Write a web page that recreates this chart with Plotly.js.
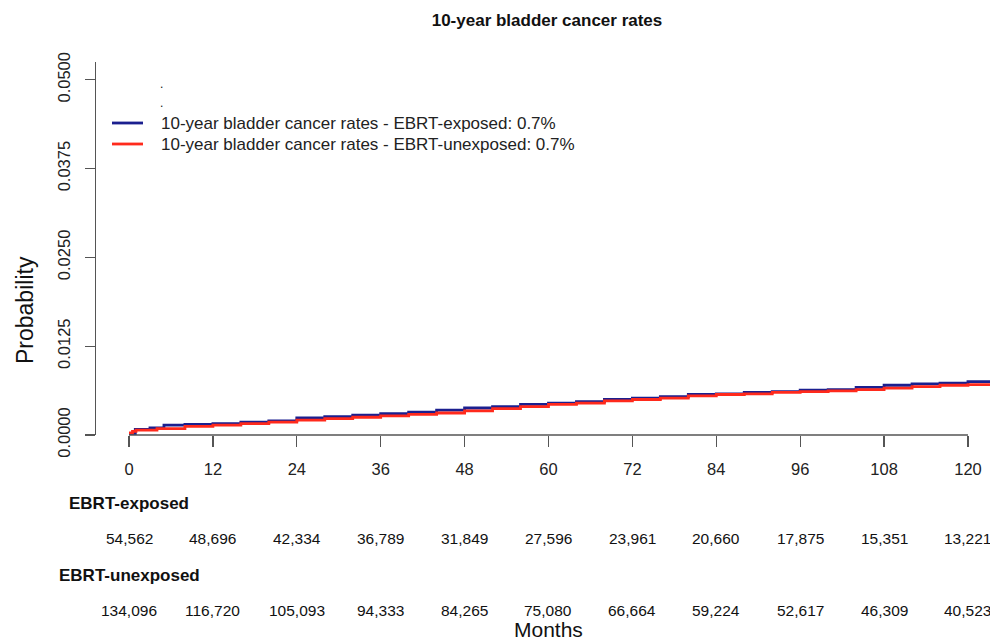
<!DOCTYPE html>
<html>
<head>
<meta charset="utf-8">
<script src="https://cdn.plot.ly/plotly-3.0.1.min.js"></script>
<style>html,body{margin:0;padding:0;background:#fff;}#chart{width:990px;height:641px;}</style>
</head>
<body>
<div id="chart"></div>
<script>
// ---- data ----
const exposedMonths = [0, 0.9, 3, 5, 8, 12, 16, 20, 24, 28, 32, 36, 40, 44, 48, 52, 56, 60, 64, 68, 72, 76, 80, 84, 88, 92, 96, 100, 104, 108, 112, 116, 120, 123.2];
const exposedProb   = [0.0002, 0.0008, 0.0010, 0.0014, 0.0015, 0.0016, 0.0018, 0.0020, 0.0024, 0.0026, 0.0028, 0.0030, 0.0032, 0.0035, 0.0038, 0.0040, 0.0043, 0.0045, 0.0047, 0.0050, 0.0052, 0.0054, 0.0057, 0.0058, 0.0060, 0.0061, 0.0063, 0.0064, 0.0067, 0.0070, 0.0072, 0.0073, 0.0075, 0.0076];
const unexposedMonths = [0, 0.5, 1, 4, 8, 12, 16, 20, 24, 28, 32, 36, 40, 44, 48, 52, 56, 60, 64, 68, 72, 76, 80, 84, 88, 92, 96, 100, 104, 108, 112, 116, 120, 123.2];
const unexposedProb   = [0.0003, 0.0005, 0.0007, 0.0009, 0.0012, 0.0014, 0.0016, 0.0018, 0.0021, 0.0023, 0.0025, 0.0027, 0.0029, 0.0031, 0.0034, 0.0037, 0.0040, 0.0043, 0.0045, 0.0048, 0.0050, 0.0052, 0.0055, 0.0057, 0.0058, 0.0060, 0.0061, 0.0062, 0.0064, 0.0066, 0.0068, 0.0070, 0.0071, 0.0073];

const xTicks = [0, 12, 24, 36, 48, 60, 72, 84, 96, 108, 120];
const yTicks = [0, 0.0125, 0.025, 0.0375, 0.05];
const yTickLabels = ["0.0000", "0.0125", "0.0250", "0.0375", "0.0500"];

const riskExposed   = ["54,562", "48,696", "42,334", "36,789", "31,849", "27,596", "23,961", "20,660", "17,875", "15,351", "13,221"];
const riskUnexposed = ["134,096", "116,720", "105,093", "94,333", "84,265", "75,080", "66,664", "59,224", "52,617", "46,309", "40,523"];

const titleText = "10-year bladder cancer rates";
const nameExposed = "10-year bladder cancer rates - EBRT-exposed: 0.7%";
const nameUnexposed = "10-year bladder cancer rates - EBRT-unexposed: 0.7%";
const colorExposed = '#1b1f8f';
const colorUnexposed = '#ff2a1c';

// ---- layout helpers ----
const FONT = "Liberation Sans, Arial, Helvetica, sans-serif";
const W = 990, H = 641;
const L = 96, T = 62, B = 435; // plot pixel edges
const plotH = B - T, plotW = W - L;
const py = p => (B - p) / plotH;       // pixel y -> paper y
const px = p => (p - L) / plotW;       // pixel x -> paper x

const traces = [
  {x: exposedMonths, y: exposedProb, type: 'scatter', mode: 'lines', line: {shape: 'hv', color: colorExposed, width: 2.8}, name: nameExposed},
  {x: unexposedMonths, y: unexposedProb, type: 'scatter', mode: 'lines', line: {shape: 'hv', color: colorUnexposed, width: 2.8}, name: nameUnexposed}
];

const annotations = [];
function addText(text, xref, x, y, opts) {
  annotations.push(Object.assign({text: text, xref: xref, yref: 'paper', x: x, y: y, showarrow: false,
    font: {family: FONT, size: 15.5, color: '#111'}, xanchor: 'center', yanchor: 'middle'}, opts || {}));
}
xTicks.forEach((t, i) => {
  addText(riskExposed[i], 'x', t, py(538));
  addText(riskUnexposed[i], 'x', t, py(610));
});
addText("<b>EBRT-exposed</b>", 'paper', px(67), py(503), {xanchor: 'left', font: {family: FONT, size: 17, color: '#111'}});
addText("<b>EBRT-unexposed</b>", 'paper', px(57), py(575), {xanchor: 'left', font: {family: FONT, size: 17, color: '#111'}});
addText("Months", 'paper', px(548), py(629), {font: {family: FONT, size: 21, color: '#111'}});
addText("Probability", 'paper', px(25), py(310), {textangle: -90, font: {family: FONT, size: 23, color: '#111'}});
addText(".", 'paper', px(161), py(84), {font: {family: FONT, size: 12, color: '#111'}});
addText(".", 'paper', px(161), py(103), {font: {family: FONT, size: 12, color: '#111'}});
// legend text
addText(nameExposed, 'paper', px(159), py(123), {xanchor: 'left', font: {family: FONT, size: 17, color: '#222'}});
addText(nameUnexposed, 'paper', px(159), py(144), {xanchor: 'left', font: {family: FONT, size: 17, color: '#222'}});

const layout = {
  width: W, height: H,
  margin: {l: L, r: 0, t: T, b: H - B, pad: 0},
  paper_bgcolor: '#fff', plot_bgcolor: '#fff',
  font: {family: FONT, color: '#111'},
  title: {text: '<b>' + titleText + '</b>', x: px(547), xanchor: 'center', y: 1 - 20 / H, yanchor: 'middle', xref: 'paper',
          font: {family: FONT, size: 17, color: '#111'}},
  showlegend: false,
  xaxis: {range: [-4.72, 123.15], tickvals: xTicks, ticktext: xTicks.map(String), ticks: 'outside', ticklen: 11, tickwidth: 1.3,
          tickcolor: '#555', showgrid: false, zeroline: false, showline: false, tickfont: {family: FONT, size: 16.5, color: '#222'},
          ticklabelstandoff: 8, fixedrange: true},
  yaxis: {range: [0, 0.0525], tickvals: yTicks, ticktext: yTickLabels, ticks: 'outside', ticklen: 10, tickwidth: 1.3,
          tickcolor: '#555', showgrid: false, zeroline: false, showline: true, linecolor: '#555', linewidth: 1.3,
          tickangle: -90, tickfont: {family: FONT, size: 16.5, color: '#222'}, ticklabelstandoff: 8, fixedrange: true},
  shapes: [
    {type: 'line', xref: 'x', yref: 'paper', x0: 0, x1: 120, y0: 0, y1: 0, line: {color: '#555', width: 1.3}},
    {type: 'line', xref: 'paper', yref: 'paper', x0: px(112), x1: px(143), y0: py(123), y1: py(123), line: {color: colorExposed, width: 2.8}},
    {type: 'line', xref: 'paper', yref: 'paper', x0: px(112), x1: px(143), y0: py(144), y1: py(144), line: {color: colorUnexposed, width: 2.8}}
  ],
  annotations: annotations
};

Plotly.newPlot('chart', traces, layout, {displayModeBar: false, staticPlot: true});
</script>
</body>
</html>
